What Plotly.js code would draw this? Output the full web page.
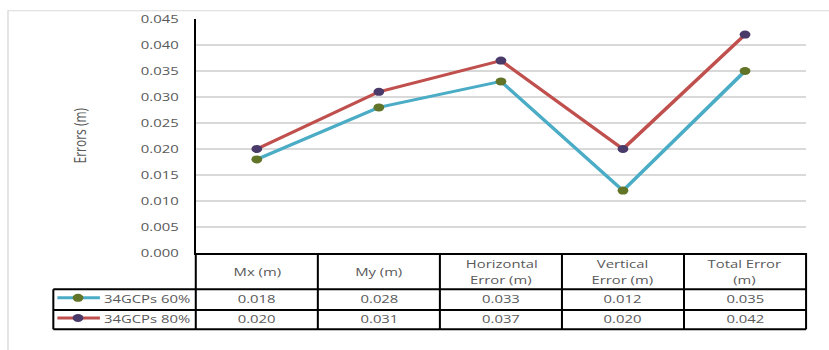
<!DOCTYPE html>
<html>
<head>
<meta charset="utf-8">
<script src="https://cdn.plot.ly/plotly-3.0.1.min.js"></script>
<style>
  html, body { margin: 0; padding: 0; background: #ffffff; overflow: hidden; }
  #wrap { width: 829px; height: 350px; overflow: hidden; }
  /* the chart is laid out narrow and widened horizontally, like the stretched Excel export */
  #chart { width: 614px; height: 350px; transform-origin: 0 0; transform: scaleX(1.3502); }
</style>
</head>
<body>
<div id="wrap"><div id="chart"></div></div>
<script>
// Error statistics per component, in metres
const categories = ['Mx (m)', 'My (m)', 'Horizontal<br>Error (m)', 'Vertical<br>Error (m)', 'Total Error<br>(m)'];
const seriesNames = ['34GCPs 60%', '34GCPs 80%'];
const gcp60 = [0.018, 0.028, 0.033, 0.012, 0.035];
const gcp80 = [0.020, 0.031, 0.037, 0.020, 0.042];
const yTicks = [0, 0.005, 0.010, 0.015, 0.020, 0.025, 0.030, 0.035, 0.040, 0.045];

const W = 614, H = 350;
const M = { l: 145, r: 17, t: 19, b: 97 };
const plotW = W - M.l - M.r, plotH = H - M.t - M.b;
const FONT = '"Open Sans", "Liberation Sans", sans-serif';
const TXT = '#595959';

const lineColors = ['#4bacc6', '#c0504d'];
const markerColors = ['#617428', '#4a3a6a'];
const values = [gcp60, gcp80];
const idx = categories.map((_, i) => i);

// pixel position (from the top of the figure) -> paper y
const py = p => (H - M.b - p) / plotH;
// pixel position (from the left of the figure) -> paper x
const px = p => (p - M.l) / plotW;

const data = values.map((v, k) => ({
  type: 'scatter', mode: 'lines+markers',
  x: idx, y: v, name: seriesNames[k],
  line: { color: lineColors[k], width: 3 },
  marker: { color: markerColors[k], size: 8 },
  cliponaxis: false,
  hoverinfo: 'skip'
}));

// table geometry
const nCol = categories.length;
const colEdge = i => i / nCol;               // paper x of column boundaries (range -0.5..n-0.5)
const rowHeader = py(289.3), rowA = py(310), rowB = py(329.3);
const legendLeft = px(39.5);

const shapes = [];
// light chart-area frame
shapes.push({ type: 'rect', xref: 'paper', yref: 'paper', x0: px(5.9), x1: 1.3, y0: py(10.7), y1: -1,
  line: { color: '#d9d9d9', width: 1 }, fillcolor: 'rgba(0,0,0,0)', layer: 'below' });
// vertical lines of the data table (column boundaries, incl. the axis line)
for (let i = 0; i <= nCol; i++) {
  shapes.push({ type: 'line', xref: 'paper', yref: 'paper', x0: colEdge(i), x1: colEdge(i),
    y0: 0, y1: rowB, line: { color: '#000', width: 1.5 } });
}
// legend cell left edge
shapes.push({ type: 'line', xref: 'paper', yref: 'paper', x0: legendLeft, x1: legendLeft,
  y0: rowHeader, y1: rowB, line: { color: '#000', width: 1.5 } });
// horizontal rules
[rowHeader, rowA, rowB].forEach(y => shapes.push({ type: 'line', xref: 'paper', yref: 'paper',
  x0: legendLeft, x1: 1, y0: y, y1: y, line: { color: '#000', width: 2 } }));

const annotations = [];
// column headers
categories.forEach((c, i) => {
  const lines = c.split('<br>');
  const centers = lines.length === 1 ? [271] : [263.3, 279.3];
  lines.forEach((t, j) => annotations.push({
    xref: 'x', yref: 'paper', x: i, y: py(centers[j]), text: t, showarrow: false,
    xanchor: 'center', yanchor: 'middle', font: { family: FONT, size: 11, color: TXT }
  }));
});
// value rows + legend keys
const rowCenters = [298.4, 318.6];
values.forEach((v, k) => {
  const yc = py(rowCenters[k]);
  v.forEach((val, i) => annotations.push({
    xref: 'x', yref: 'paper', x: i, y: yc, text: val.toFixed(3), showarrow: false,
    xanchor: 'center', yanchor: 'middle', font: { family: FONT, size: 11, color: TXT }
  }));
  annotations.push({ xref: 'paper', yref: 'paper', x: px(75.3), y: yc, text: seriesNames[k],
    showarrow: false, xanchor: 'left', yanchor: 'middle', font: { family: FONT, size: 11, color: TXT } });
  shapes.push({ type: 'line', xref: 'paper', yref: 'paper', x0: px(42.5), x1: px(74), y0: py(rowCenters[k] - 0.6), y1: py(rowCenters[k] - 0.6),
    line: { color: lineColors[k], width: 3 } });
  shapes.push({ type: 'circle', xref: 'paper', yref: 'paper', xsizemode: 'pixel', ysizemode: 'pixel',
    xanchor: px(57.8), yanchor: py(rowCenters[k] - 0.6), x0: -4, x1: 4, y0: -4, y1: 4,
    fillcolor: markerColors[k], line: { width: 0 } });
});
// y axis title
annotations.push({ xref: 'paper', yref: 'paper', x: px(58.5), y: 0.5, text: 'Errors (m)', textangle: -90,
  showarrow: false, xanchor: 'center', yanchor: 'middle', font: { family: FONT, size: 12, color: TXT } });

const layout = {
  width: W, height: H,
  margin: M,
  paper_bgcolor: '#ffffff', plot_bgcolor: '#ffffff',
  showlegend: false,
  font: { family: FONT, size: 11, color: TXT },
  xaxis: {
    range: [-0.5, nCol - 0.5], showticklabels: false, ticks: '', showgrid: false, zeroline: false,
    showline: true, linecolor: '#000', linewidth: 2, fixedrange: true
  },
  yaxis: {
    range: [0, 0.045], tickvals: yTicks, tickformat: '.3f', showgrid: true, gridcolor: '#d9d9d9', gridwidth: 1.2,
    zeroline: false, showline: true, linecolor: '#000', linewidth: 1.5,
    ticks: 'outside', ticklen: 9, tickcolor: 'rgba(0,0,0,0)',
    tickfont: { family: FONT, size: 11, color: TXT }, fixedrange: true
  },
  shapes: shapes,
  annotations: annotations
};

Plotly.newPlot('chart', data, layout, { staticPlot: true, displayModeBar: false, responsive: false });
</script>
</body>
</html>
